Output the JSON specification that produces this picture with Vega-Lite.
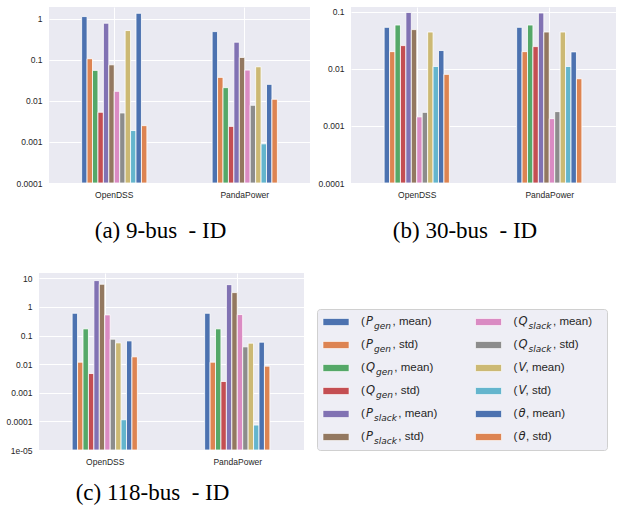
{
  "$schema": "https://vega.github.io/schema/vega-lite/v6.json",
  "background": "white",
  "padding": {"left": 0, "top": 7, "right": 0, "bottom": 0},
  "config": {
    "view": {"stroke": null},
    "font": "Liberation Sans",
    "axis": {"domain": false, "ticks": false, "gridColor": "white", "gridWidth": 1, "labelColor": "#262626", "labelFont": "Liberation Sans", "labelFontSize": 8.5, "labelPadding": 7, "titlePadding": 0, "title": null},
    "title": {"font": "Liberation Serif", "fontSize": 23, "fontWeight": "normal", "color": "#000000"}
  },
  "datasets": {
    "bus9": [
      {"tool": "OpenDSS", "s": "Pgen-mean", "v": 1.14},
      {"tool": "OpenDSS", "s": "Pgen-std", "v": 0.107},
      {"tool": "OpenDSS", "s": "Qgen-mean", "v": 0.0556},
      {"tool": "OpenDSS", "s": "Qgen-std", "v": 0.0053},
      {"tool": "OpenDSS", "s": "Pslack-mean", "v": 0.785},
      {"tool": "OpenDSS", "s": "Pslack-std", "v": 0.076},
      {"tool": "OpenDSS", "s": "Qslack-mean", "v": 0.0172},
      {"tool": "OpenDSS", "s": "Qslack-std", "v": 0.0051},
      {"tool": "OpenDSS", "s": "V-mean", "v": 0.52},
      {"tool": "OpenDSS", "s": "V-std", "v": 0.0019},
      {"tool": "OpenDSS", "s": "theta-mean", "v": 1.37},
      {"tool": "OpenDSS", "s": "theta-std", "v": 0.0025},
      {"tool": "PandaPower", "s": "Pgen-mean", "v": 0.49},
      {"tool": "PandaPower", "s": "Pgen-std", "v": 0.0376},
      {"tool": "PandaPower", "s": "Qgen-mean", "v": 0.0211},
      {"tool": "PandaPower", "s": "Qgen-std", "v": 0.0024},
      {"tool": "PandaPower", "s": "Pslack-mean", "v": 0.271},
      {"tool": "PandaPower", "s": "Pslack-std", "v": 0.115},
      {"tool": "PandaPower", "s": "Qslack-mean", "v": 0.0566},
      {"tool": "PandaPower", "s": "Qslack-std", "v": 0.00785},
      {"tool": "PandaPower", "s": "V-mean", "v": 0.068},
      {"tool": "PandaPower", "s": "V-std", "v": 0.0009},
      {"tool": "PandaPower", "s": "theta-mean", "v": 0.0254},
      {"tool": "PandaPower", "s": "theta-std", "v": 0.011}
    ],
    "bus30": [
      {"tool": "OpenDSS", "s": "Pgen-mean", "v": 0.0533},
      {"tool": "OpenDSS", "s": "Pgen-std", "v": 0.020},
      {"tool": "OpenDSS", "s": "Qgen-mean", "v": 0.0585},
      {"tool": "OpenDSS", "s": "Qgen-std", "v": 0.0255},
      {"tool": "OpenDSS", "s": "Pslack-mean", "v": 0.097},
      {"tool": "OpenDSS", "s": "Pslack-std", "v": 0.0486},
      {"tool": "OpenDSS", "s": "Qslack-mean", "v": 0.00144},
      {"tool": "OpenDSS", "s": "Qslack-std", "v": 0.00173},
      {"tool": "OpenDSS", "s": "V-mean", "v": 0.0441},
      {"tool": "OpenDSS", "s": "V-std", "v": 0.011},
      {"tool": "OpenDSS", "s": "theta-mean", "v": 0.0209},
      {"tool": "OpenDSS", "s": "theta-std", "v": 0.008},
      {"tool": "PandaPower", "s": "Pgen-mean", "v": 0.0533},
      {"tool": "PandaPower", "s": "Pgen-std", "v": 0.020},
      {"tool": "PandaPower", "s": "Qgen-mean", "v": 0.0585},
      {"tool": "PandaPower", "s": "Qgen-std", "v": 0.0245},
      {"tool": "PandaPower", "s": "Pslack-mean", "v": 0.095},
      {"tool": "PandaPower", "s": "Pslack-std", "v": 0.0441},
      {"tool": "PandaPower", "s": "Qslack-mean", "v": 0.00134},
      {"tool": "PandaPower", "s": "Qslack-std", "v": 0.00178},
      {"tool": "PandaPower", "s": "V-mean", "v": 0.0441},
      {"tool": "PandaPower", "s": "V-std", "v": 0.011},
      {"tool": "PandaPower", "s": "theta-mean", "v": 0.0198},
      {"tool": "PandaPower", "s": "theta-std", "v": 0.0067}
    ],
    "bus118": [
      {"tool": "OpenDSS", "s": "Pgen-mean", "v": 0.60},
      {"tool": "OpenDSS", "s": "Pgen-std", "v": 0.0117},
      {"tool": "OpenDSS", "s": "Qgen-mean", "v": 0.171},
      {"tool": "OpenDSS", "s": "Qgen-std", "v": 0.0047},
      {"tool": "OpenDSS", "s": "Pslack-mean", "v": 8.3},
      {"tool": "OpenDSS", "s": "Pslack-std", "v": 6.2},
      {"tool": "OpenDSS", "s": "Qslack-mean", "v": 0.526},
      {"tool": "OpenDSS", "s": "Qslack-std", "v": 0.0745},
      {"tool": "OpenDSS", "s": "V-mean", "v": 0.0554},
      {"tool": "OpenDSS", "s": "V-std", "v": 0.000114},
      {"tool": "OpenDSS", "s": "theta-mean", "v": 0.065},
      {"tool": "OpenDSS", "s": "theta-std", "v": 0.018},
      {"tool": "PandaPower", "s": "Pgen-mean", "v": 0.60},
      {"tool": "PandaPower", "s": "Pgen-std", "v": 0.0117},
      {"tool": "PandaPower", "s": "Qgen-mean", "v": 0.171},
      {"tool": "PandaPower", "s": "Qgen-std", "v": 0.00248},
      {"tool": "PandaPower", "s": "Pslack-mean", "v": 6.0},
      {"tool": "PandaPower", "s": "Pslack-std", "v": 3.16},
      {"tool": "PandaPower", "s": "Qslack-mean", "v": 0.54},
      {"tool": "PandaPower", "s": "Qslack-std", "v": 0.0402},
      {"tool": "PandaPower", "s": "V-mean", "v": 0.054},
      {"tool": "PandaPower", "s": "V-std", "v": 0.0000745},
      {"tool": "PandaPower", "s": "theta-mean", "v": 0.0585},
      {"tool": "PandaPower", "s": "theta-std", "v": 0.0085}
    ],
    "legend": [
      {"s": "Pgen-mean", "col": 0, "row": 0, "sym": "P", "sub": "gen", "g": "Pgen", "rest": ", mean)"},
      {"s": "Pgen-std", "col": 0, "row": 1, "sym": "P", "sub": "gen", "g": "Pgen", "rest": ", std)"},
      {"s": "Qgen-mean", "col": 0, "row": 2, "sym": "Q", "sub": "gen", "g": "Qgen", "rest": ", mean)"},
      {"s": "Qgen-std", "col": 0, "row": 3, "sym": "Q", "sub": "gen", "g": "Qgen", "rest": ", std)"},
      {"s": "Pslack-mean", "col": 0, "row": 4, "sym": "P", "sub": "slack", "g": "Pslack", "rest": ", mean)"},
      {"s": "Pslack-std", "col": 0, "row": 5, "sym": "P", "sub": "slack", "g": "Pslack", "rest": ", std)"},
      {"s": "Qslack-mean", "col": 1, "row": 0, "sym": "Q", "sub": "slack", "g": "Qslack", "rest": ", mean)"},
      {"s": "Qslack-std", "col": 1, "row": 1, "sym": "Q", "sub": "slack", "g": "Qslack", "rest": ", std)"},
      {"s": "V-mean", "col": 1, "row": 2, "sym": "V", "sub": "", "g": "V", "rest": ", mean)"},
      {"s": "V-std", "col": 1, "row": 3, "sym": "V", "sub": "", "g": "V", "rest": ", std)"},
      {"s": "theta-mean", "col": 1, "row": 4, "sym": "θ", "sub": "", "g": "theta", "rest": ", mean)"},
      {"s": "theta-std", "col": 1, "row": 5, "sym": "θ", "sub": "", "g": "theta", "rest": ", std)"}
    ]
  },
  "columns": 3,
  "align": "none",
  "spacing": {"row": 30, "column": 0},
  "concat": [
    {
      "width": 1, "height": 1,
      "data": {"values": [{"k": 0}]},
      "mark": {"type": "point", "size": 0, "opacity": 0},
      "encoding": {}
    },
    {
      "width": 261, "height": 176,
      "data": {"name": "bus9"},
      "view": {"fill": "#EAEAF2", "stroke": null},
      "title": {"text": "(a) 9-bus\u00a0 - ID", "orient": "bottom", "frame": "bounds", "anchor": "middle", "offset": 21, "dx": 5},
      "mark": {"type": "bar", "stroke": "white", "strokeWidth": 0.8, "opacity": 1},
      "encoding": {
        "x": {"field": "tool", "type": "nominal", "scale": {"paddingInner": 0.5, "paddingOuter": 0.25}, "axis": {"labelAngle": 0, "grid": true, "bandPosition": 0.5}},
        "xOffset": {"field": "s", "type": "nominal", "scale": {"domain": ["Pgen-mean", "Pgen-std", "Qgen-mean", "Qgen-std", "Pslack-mean", "Pslack-std", "Qslack-mean", "Qslack-std", "V-mean", "V-std", "theta-mean", "theta-std"], "paddingInner": 0, "paddingOuter": 0}},
        "y": {"field": "v", "type": "quantitative", "scale": {"type": "log", "domain": [0.0001, 1.95], "nice": false}, "axis": {"values": [0.0001, 0.001, 0.01, 0.1, 1], "labelExpr": "datum.value < 0.00005 ? '1e-05' : format(datum.value, '~g')", "grid": true, "minExtent": 48, "maxExtent": 48}},
        "y2": {"datum": 0.0001},
        "color": {"field": "s", "type": "nominal", "legend": null, "scale": {"domain": ["Pgen-mean", "Pgen-std", "Qgen-mean", "Qgen-std", "Pslack-mean", "Pslack-std", "Qslack-mean", "Qslack-std", "V-mean", "V-std", "theta-mean", "theta-std"], "range": ["#4C72B0", "#DD8452", "#55A868", "#C44E52", "#8172B3", "#937860", "#DA8BC3", "#8C8C8C", "#CCB974", "#64B5CD", "#4C72B0", "#DD8452"]}}
      }
    },
    {
      "width": 265, "height": 176,
      "data": {"name": "bus30"},
      "view": {"fill": "#EAEAF2", "stroke": null},
      "title": {"text": "(b) 30-bus\u00a0 - ID", "orient": "bottom", "frame": "bounds", "anchor": "middle", "offset": 21},
      "mark": {"type": "bar", "stroke": "white", "strokeWidth": 0.8, "opacity": 1},
      "encoding": {
        "x": {"field": "tool", "type": "nominal", "scale": {"paddingInner": 0.5, "paddingOuter": 0.25}, "axis": {"labelAngle": 0, "grid": true, "bandPosition": 0.5}},
        "xOffset": {"field": "s", "type": "nominal", "scale": {"domain": ["Pgen-mean", "Pgen-std", "Qgen-mean", "Qgen-std", "Pslack-mean", "Pslack-std", "Qslack-mean", "Qslack-std", "V-mean", "V-std", "theta-mean", "theta-std"], "paddingInner": 0, "paddingOuter": 0}},
        "y": {"field": "v", "type": "quantitative", "scale": {"type": "log", "domain": [0.0001, 0.121], "nice": false}, "axis": {"values": [0.0001, 0.001, 0.01, 0.1], "labelExpr": "datum.value < 0.00005 ? '1e-05' : format(datum.value, '~g')", "grid": true, "minExtent": 37, "maxExtent": 37}},
        "y2": {"datum": 0.0001},
        "color": {"field": "s", "type": "nominal", "legend": null}
      }
    },
    {
      "width": 1, "height": 1,
      "data": {"values": [{"k": 0}]},
      "mark": {"type": "point", "size": 0, "opacity": 0},
      "encoding": {}
    },
    {
      "width": 265, "height": 177,
      "data": {"name": "bus118"},
      "view": {"fill": "#EAEAF2", "stroke": null},
      "title": {"text": "(c) 118-bus\u00a0 - ID", "orient": "bottom", "frame": "bounds", "anchor": "middle", "offset": 16},
      "mark": {"type": "bar", "stroke": "white", "strokeWidth": 0.8, "opacity": 1},
      "encoding": {
        "x": {"field": "tool", "type": "nominal", "scale": {"paddingInner": 0.5, "paddingOuter": 0.25}, "axis": {"labelAngle": 0, "grid": true, "bandPosition": 0.5}},
        "xOffset": {"field": "s", "type": "nominal", "scale": {"domain": ["Pgen-mean", "Pgen-std", "Qgen-mean", "Qgen-std", "Pslack-mean", "Pslack-std", "Qslack-mean", "Qslack-std", "V-mean", "V-std", "theta-mean", "theta-std"], "paddingInner": 0, "paddingOuter": 0}},
        "y": {"field": "v", "type": "quantitative", "scale": {"type": "log", "domain": [0.00001, 15.3], "nice": false}, "axis": {"values": [0.00001, 0.0001, 0.001, 0.01, 0.1, 1, 10], "labelExpr": "datum.value < 0.00005 ? '1e-05' : format(datum.value, '~g')", "grid": true, "minExtent": 38, "maxExtent": 38}},
        "y2": {"datum": 0.00001},
        "color": {"field": "s", "type": "nominal", "legend": null}
      }
    },
    {
      "width": 290, "height": 141,
      "data": {"name": "legend"},
      "view": {"fill": "#EEEEF5", "stroke": "#D0D0D0", "strokeWidth": 1, "cornerRadius": 3},
      "encoding": {
        "x": {"field": "col", "type": "quantitative", "scale": {"domain": [0, 1], "range": [19, 171.5]}, "axis": {"orient": "top", "labels": false, "grid": false, "minExtent": 35, "maxExtent": 35}},
        "y": {"field": "row", "type": "quantitative", "scale": {"domain": [0, 5], "range": [13, 128]}, "axis": {"labels": false, "grid": false, "minExtent": 12, "maxExtent": 12}}
      },
      "layer": [
        {
          "mark": {"type": "tick", "orient": "horizontal", "size": 26, "thickness": 7, "opacity": 1, "stroke": "white", "strokeWidth": 0.6},
          "encoding": {"color": {"field": "s", "type": "nominal", "legend": null}}
        },
        {
          "mark": {"type": "text", "align": "left", "baseline": "middle", "dx": 25, "fontSize": 11.5, "font": "Liberation Sans", "color": "#262626"},
          "encoding": {"text": {"value": "("}}
        },
        {
          "mark": {"type": "text", "align": "left", "baseline": "middle", "dx": 30, "fontSize": 11.5, "font": "DejaVu Sans", "fontStyle": "italic", "color": "#262626"},
          "encoding": {"text": {"field": "sym"}}
        },
        {
          "transform": [{"filter": "datum.sym == 'P'"}],
          "mark": {"type": "text", "align": "left", "baseline": "middle", "dx": 38, "dy": 3.5, "fontSize": 9, "font": "DejaVu Sans", "fontStyle": "italic", "color": "#262626"},
          "encoding": {"text": {"field": "sub"}}
        },
        {
          "transform": [{"filter": "datum.sym == 'Q'"}],
          "mark": {"type": "text", "align": "left", "baseline": "middle", "dx": 40, "dy": 3.5, "fontSize": 9, "font": "DejaVu Sans", "fontStyle": "italic", "color": "#262626"},
          "encoding": {"text": {"field": "sub"}}
        },
        {
          "transform": [{"filter": "datum.g == 'Pgen'"}],
          "mark": {"type": "text", "align": "left", "baseline": "middle", "dx": 56.5, "fontSize": 11.5, "font": "Liberation Sans", "color": "#262626"},
          "encoding": {"text": {"field": "rest"}}
        },
        {
          "transform": [{"filter": "datum.g == 'Qgen'"}],
          "mark": {"type": "text", "align": "left", "baseline": "middle", "dx": 58.3, "fontSize": 11.5, "font": "Liberation Sans", "color": "#262626"},
          "encoding": {"text": {"field": "rest"}}
        },
        {
          "transform": [{"filter": "datum.g == 'Pslack'"}],
          "mark": {"type": "text", "align": "left", "baseline": "middle", "dx": 62.3, "fontSize": 11.5, "font": "Liberation Sans", "color": "#262626"},
          "encoding": {"text": {"field": "rest"}}
        },
        {
          "transform": [{"filter": "datum.g == 'Qslack'"}],
          "mark": {"type": "text", "align": "left", "baseline": "middle", "dx": 64.5, "fontSize": 11.5, "font": "Liberation Sans", "color": "#262626"},
          "encoding": {"text": {"field": "rest"}}
        },
        {
          "transform": [{"filter": "datum.g == 'V'"}],
          "mark": {"type": "text", "align": "left", "baseline": "middle", "dx": 37, "fontSize": 11.5, "font": "Liberation Sans", "color": "#262626"},
          "encoding": {"text": {"field": "rest"}}
        },
        {
          "transform": [{"filter": "datum.g == 'theta'"}],
          "mark": {"type": "text", "align": "left", "baseline": "middle", "dx": 37.5, "fontSize": 11.5, "font": "Liberation Sans", "color": "#262626"},
          "encoding": {"text": {"field": "rest"}}
        }
      ]
    }
  ]
}
